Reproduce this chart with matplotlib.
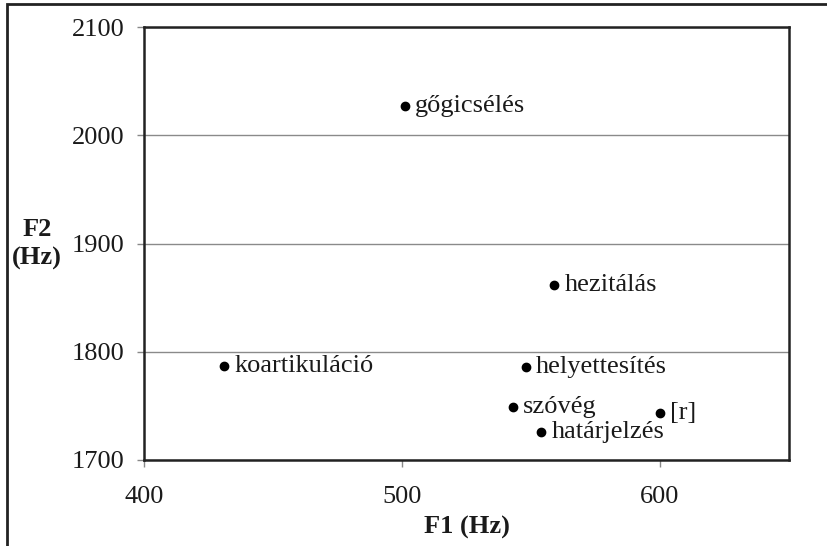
import matplotlib.pyplot as plt
from matplotlib.patches import Rectangle

# formant values
labels = ["gőgicsélés", "hezitálás", "koartikuláció", "helyettesítés",
          "szóvég", "határjelzés", "[r]"]
f1 = [501, 559, 431, 548, 543, 554, 600]
f2 = [2027, 1862, 1787, 1786, 1749, 1726, 1743]

x_ticks = [400, 500, 600]
y_ticks = [1700, 1800, 1900, 2000, 2100]

plt.rcParams["font.family"] = ["Liberation Serif", "DejaVu Serif"]

fig = plt.figure(figsize=(8.28, 5.46), dpi=100)
ax = fig.add_axes([144 / 828, 1 - 460 / 546, 645 / 828, 433 / 546])

# outer frame (cut off at right and bottom like in the source)
fig.patches.append(Rectangle((7 / 828, -0.1), 1.2, 1.1 - 4 / 546,
                             transform=fig.transFigure, fill=False,
                             edgecolor="#222222", linewidth=2))

ax.scatter(f1, f2, s=36, color="black", zorder=3)
for x, y, t in zip(f1, f2, labels):
    ax.annotate(t, (x, y), xytext=(7.5, 0), textcoords="offset points",
                va="center", ha="left", fontsize=19, color="#1a1a1a")

ax.set_xlim(400, 650)
ax.set_ylim(1700, 2100)
ax.set_xticks(x_ticks)
ax.set_yticks(y_ticks)
ax.tick_params(axis="both", direction="out", length=5, width=1,
               color="#888888", labelsize=19, labelcolor="#1a1a1a")
ax.tick_params(axis="y", pad=9)
ax.tick_params(axis="x", pad=14)

ax.grid(axis="y", color="#8a8a8a", linewidth=1)
ax.set_axisbelow(True)
for s in ax.spines.values():
    s.set_color("#222222")
    s.set_linewidth(1.8)

fig.text(467 / 828, 1 - 527 / 546, "F1 (Hz)", ha="center", va="center",
         fontsize=19, fontweight="bold", color="#1a1a1a")
fig.text(37 / 828, 1 - 244 / 546, "F2\n(Hz)", ha="center", va="center",
         fontsize=19, fontweight="bold", color="#1a1a1a", linespacing=1.3)

fig.savefig("out.png", dpi=100)
